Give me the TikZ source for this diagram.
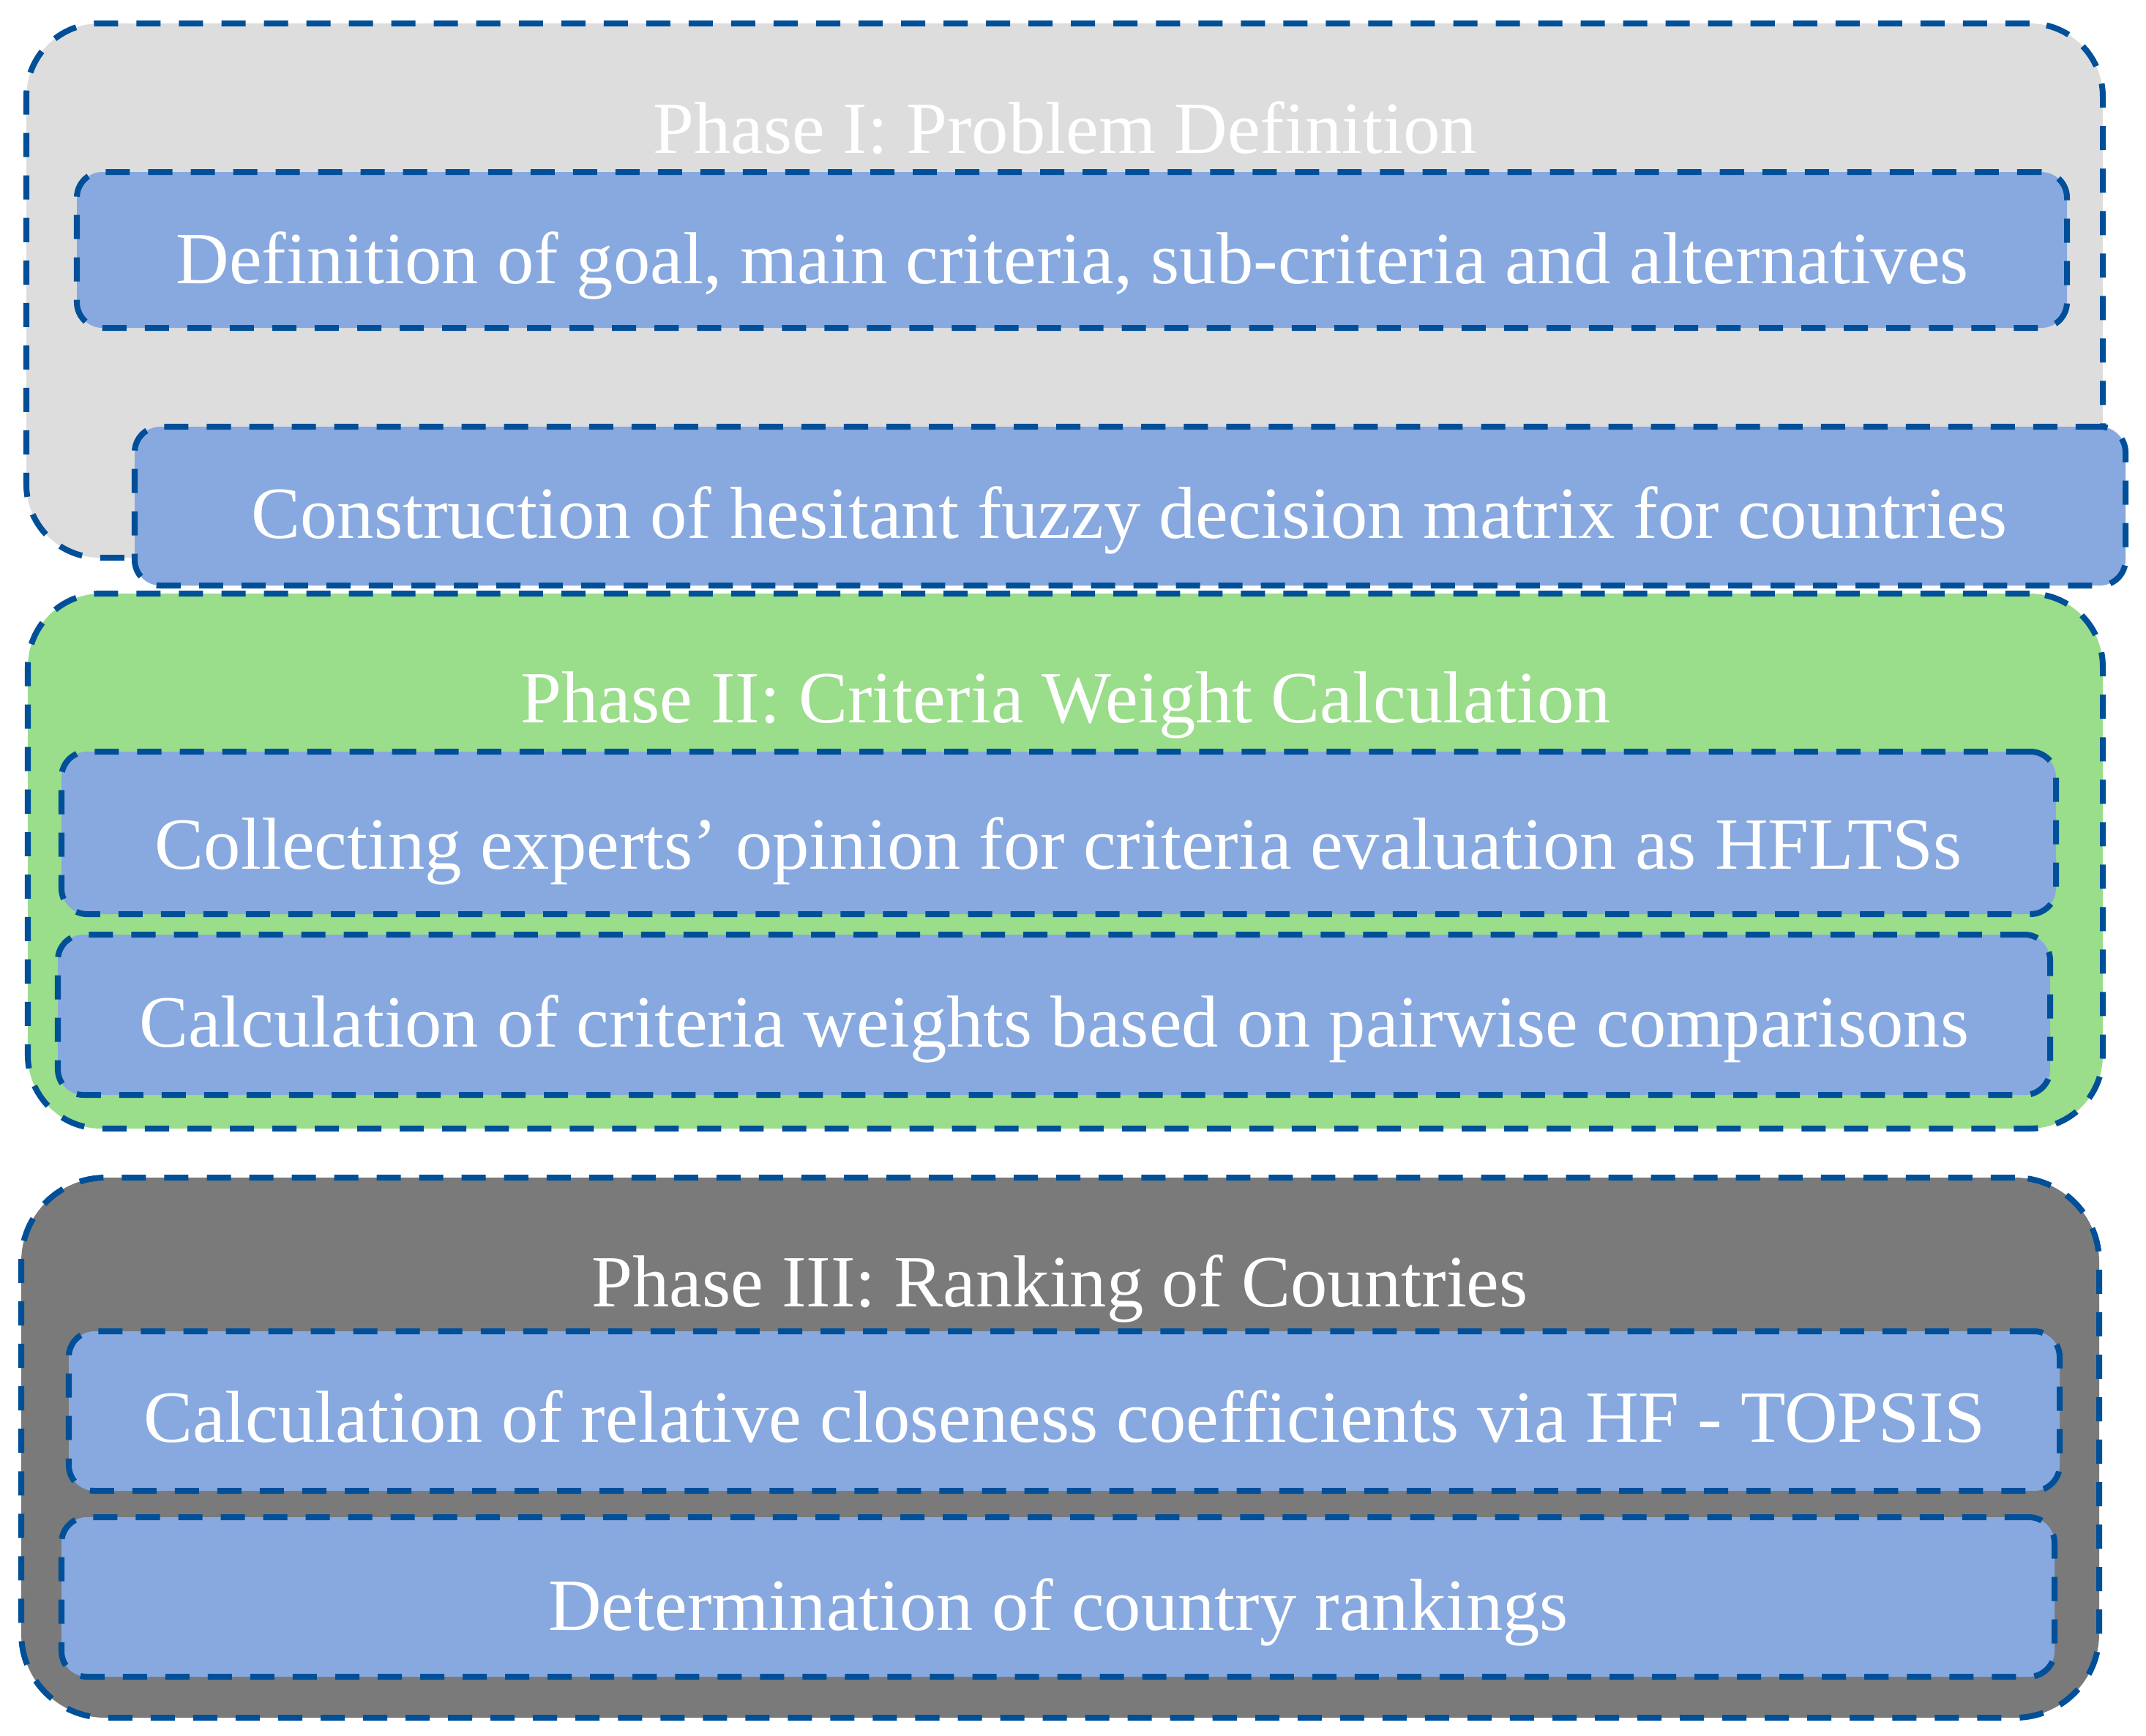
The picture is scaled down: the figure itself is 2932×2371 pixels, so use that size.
\documentclass[tikz,border=0pt]{standalone}
\usepackage{fontspec}
\setmainfont{Liberation Serif}
\usetikzlibrary{fit}
\definecolor{edgeblue}{HTML}{004F99}
\definecolor{phaseonefill}{HTML}{DDDDDD}
\definecolor{phasetwofill}{HTML}{9ADD8A}
\definecolor{phasethreefill}{HTML}{7A7A7A}
\definecolor{stepfill}{HTML}{87A9DF}
\begin{document}
\begin{tikzpicture}[x=0.01cm,y=-0.01cm,
  dashedge/.style={draw=edgeblue, line width=0.08cm, dash pattern=on 0.33cm off 0.25cm},
  phasebox/.style={dashedge, rectangle, inner sep=0pt, rounded corners=1cm},
  stepbox/.style={dashedge, rectangle, inner sep=0pt, rounded corners=0.35cm, fill=stepfill},
  steptext/.style={text=white, font=\fontsize{28.6}{34}\selectfont, anchor=base, inner sep=0pt},
  phasetitle/.style={steptext}]
\useasboundingbox (0,0) rectangle (2932,2371);
% Phase I
\node[phasebox, fill=phaseonefill, fit={(36,32) (2873,762)}] (p1) {};
\node[stepbox, fit={(105,235) (2824,448)}] (b1) {};
\node[stepbox, fit={(184,583) (2904,800)}] (b2) {};
% Phase II
\node[phasebox, fill=phasetwofill, fit={(38,811) (2873,1542)}] (p2) {};
\node[stepbox, fit={(84,1027) (2809,1249)}] (b3) {};
\node[stepbox, fit={(79,1277) (2801,1496)}] (b4) {};
% Phase III
\node[phasebox, rounded corners=1.15cm, fill=phasethreefill, fit={(29,1609) (2868,2347)}] (p3) {};
\node[stepbox, fit={(94,1819) (2814,2037)}] (b5) {};
\node[stepbox, fit={(84,2073) (2807,2291)}] (b6) {};
% titles
\node[phasetitle] (t1) at (1455,209) {Phase I: Problem Definition};
\node[phasetitle] (t2) at (1456,987) {Phase II: Criteria Weight Calculation};
\node[phasetitle] (t3) at (1448,1785) {Phase III: Ranking of Countries};
% step texts
\node[steptext] (s1) at (1465,387) {Definition of goal, main criteria, sub-criteria and alternatives};
\node[steptext] (s2) at (1543,735) {Construction of hesitant fuzzy decision matrix for countries};
\node[steptext] (s3) at (1446,1187) {Collecting experts’ opinion for criteria evaluation as HFLTSs};
\node[steptext] (s4) at (1440,1430) {Calculation of criteria weights based on pairwise comparisons};
\node[steptext] (s5) at (1454,1970) {Calculation of relative closeness coefficients via HF - TOPSIS};
\node[steptext] (s6) at (1446,2227) {Determination of country rankings};
\end{tikzpicture}
\end{document}
